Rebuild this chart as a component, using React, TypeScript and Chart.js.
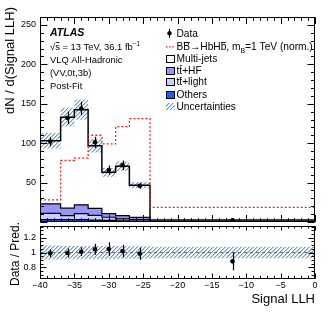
import React, { useEffect, useRef } from 'react';
import { Chart, registerables } from 'chart.js';
Chart.register(...registerables);

const FONT = "'Liberation Sans', Arial, Helvetica, sans-serif";

// ---- data ----
const binEdges = [-40, -37, -35, -33, -31, -29, -27, -24, 0];
const dataValues = [102, 132, 144, 101, 66, 72, 46, 2.2];
const dataErrors = [5.8, 8.1, 8.5, 7.1, 5.7, 6.0, 3.9, 0.3];
const multiJets = [80, 115.5, 120.7, 79.4, 52.5, 62.6, 40.9, 1.6];
const ttHF = [12, 9.5, 11.3, 8.8, 4.5, 4, 2.8, 0.4];
const ttLight = [8, 5, 7.5, 6, 4, 2.5, 2, 0.3];
const others = [3, 3, 3, 2.5, 2, 1.5, 1, 0.2];
const signalValues = [28, 78, 81, 110, 99, 121, 131, 18.5];
const relUnc = [0.095, 0.09, 0.09, 0.088, 0.088, 0.085, 0.085, 0.078];

const xMajorTicks = [-40, -35, -30, -25, -20, -15, -10, -5, 0];
const yMainTicks = [50, 100, 150, 200, 250];
const yRatioTicks = [0.8, 1, 1.2];

const X_MIN = -40, X_MAX = 0;
const Y_MAX = 260;
const R_MIN = 0.64, R_MAX = 1.36;

const COL_HF = 'rgb(150,150,250)';
const COL_LIGHT = 'rgb(204,204,255)';
const COL_OTHERS = 'rgb(20,100,240)';
const COL_SIGNAL = 'rgb(255,30,30)';

const yTitleMain = 'dN / d(Signal LLH)';
const yTitleRatio = 'Data / Pred.';
const xTitle = 'Signal LLH';

// ---- helpers ----
const centers = binEdges.slice(0, -1).map((e, i) => (e + binEdges[i + 1]) / 2);
function steps(vals: number[]) {
  return vals.flatMap((v, i) => [
    { x: binEdges[i], y: v },
    { x: binEdges[i + 1], y: v },
  ]);
}
function sumArrays(...arrs: number[][]) {
  return arrs[0].map((_, i) => arrs.reduce((s, a) => s + a[i], 0));
}
const stackOthers = others;
const stackLight = sumArrays(others, ttLight);
const stackHF = sumArrays(others, ttLight, ttHF);
const totalPred = sumArrays(others, ttLight, ttHF, multiJets);
const ratioValues = dataValues.map((d, i) => d / totalPred[i]);
const ratioErrors = dataErrors.map((e, i) => e / totalPred[i]);

function makeHatch() {
  const c = document.createElement('canvas');
  const n = 4;
  c.width = n; c.height = n;
  const g = c.getContext('2d')!;
  for (let i = 0; i < n; i++) {
    g.fillStyle = 'rgba(95,150,220,0.95)';
    g.fillRect(i, n - 1 - i, 1, 1);
    g.fillStyle = 'rgba(150,190,235,0.7)';
    g.fillRect((i + 1) % n, n - 1 - i, 1, 1);
  }
  return g.createPattern(c, 'repeat')!;
}

type Seg = { t: string; over?: boolean; sub?: boolean; sup?: boolean };
function drawRich(ctx: CanvasRenderingContext2D, x: number, y: number, segs: Seg[], size: number, style = '') {
  let cx = x;
  for (const s of segs) {
    const fs = s.sub || s.sup ? size * 0.68 : size;
    ctx.font = `${style}${fs}px ${FONT}`;
    const dy = s.sub ? size * 0.28 : s.sup ? -size * 0.42 : 0;
    ctx.fillText(s.t, cx, y + dy);
    const w = ctx.measureText(s.t).width;
    if (s.over) {
      const oy = Math.round(y - size * 0.8) + 0.5;
      ctx.beginPath(); ctx.lineWidth = 0.8;
      ctx.moveTo(cx + 0.5, oy); ctx.lineTo(cx + w - 0.3, oy); ctx.stroke();
    }
    cx += w;
  }
  return cx;
}

function range(a: number, b: number, step: number) {
  const out: number[] = [];
  for (let v = a; v <= b + 1e-9; v += step) out.push(Math.round(v * 1000) / 1000);
  return out;
}

function ticksPlugin(cfg: any) {
  return {
    id: 'frameTicks',
    afterDraw(chart: any) {
      const { ctx, chartArea: a, scales } = chart;
      const xs = scales.x, ys = scales.y;
      const L = Math.round(a.left) + 0.5, R = Math.round(a.right) - 0.5;
      const T = Math.round(a.top) + 0.5, B = Math.round(a.bottom) - 0.5;
      ctx.save();
      ctx.strokeStyle = '#000'; ctx.lineWidth = 1;
      ctx.beginPath();
      const xt = (vals: number[], len: number, lenTop: number) => {
        vals.forEach((v) => {
          if (v < X_MIN || v > X_MAX) return;
          const p = Math.round(xs.getPixelForValue(v)) + 0.5;
          ctx.moveTo(p, B); ctx.lineTo(p, B - len);
          ctx.moveTo(p, T); ctx.lineTo(p, T + lenTop);
        });
      };
      const yt = (vals: number[], len: number) => {
        vals.forEach((v) => {
          if (v < ys.min || v > ys.max) return;
          const p = Math.round(ys.getPixelForValue(v)) + 0.5;
          ctx.moveTo(L, p); ctx.lineTo(L + len, p);
          ctx.moveTo(R, p); ctx.lineTo(R - len, p);
        });
      };
      xt(cfg.xMajor, cfg.xMajLen, cfg.xMajLenTop);
      xt(cfg.xMinor, cfg.xMinLen, cfg.xMinLenTop);
      yt(cfg.yMajor, cfg.yMajLen);
      yt(cfg.yMinor, cfg.yMinLen);
      ctx.stroke();
      ctx.strokeRect(L, T, R - L, B - T);
      ctx.restore();
    },
  };
}

function errorBarPlugin(values: number[], errors: number[]) {
  return {
    id: 'errBars',
    afterDatasetsDraw(chart: any) {
      const { ctx, scales } = chart;
      ctx.save();
      ctx.strokeStyle = '#000'; ctx.lineWidth = 1.2;
      ctx.beginPath();
      centers.forEach((c, i) => {
        const px = Math.round(scales.x.getPixelForValue(c)) + 0.5;
        ctx.moveTo(px, scales.y.getPixelForValue(values[i] - errors[i]));
        ctx.lineTo(px, scales.y.getPixelForValue(values[i] + errors[i]));
      });
      ctx.stroke();
      ctx.restore();
    },
  };
}

const mainText = (hatch: CanvasPattern) => ({
  id: 'mainText',
  afterDraw(chart: any) {
    const ctx: CanvasRenderingContext2D = chart.ctx;
    ctx.save();
    ctx.fillStyle = '#000'; ctx.strokeStyle = '#000';
    ctx.textBaseline = 'alphabetic'; ctx.textAlign = 'left';
    // y title
    ctx.save();
    ctx.font = `13px ${FONT}`;
    ctx.translate(13.5, 7);
    ctx.rotate(-Math.PI / 2);
    ctx.textAlign = 'right';
    ctx.fillText(yTitleMain, 0, 0);
    ctx.restore();
    // annotations
    const ax = 50, aSize = 9.4;
    ctx.font = `italic bold 10.5px ${FONT}`;
    ctx.fillText('ATLAS', ax, 36);
    drawRich(ctx, ax, 49.5, [{ t: '\u221A' }, { t: 's', over: true }, { t: ' = 13 TeV, 36.1 fb' }, { t: '\u22121', sup: true }], aSize);
    ctx.font = `${aSize}px ${FONT}`;
    ctx.fillText('VLQ All-Hadronic', ax, 62.8);
    ctx.fillText('(VV,0t,3b)', ax, 76);
    ctx.fillText('Post-Fit', ax, 89.3);
    // legend
    const lx = 166, lw = 9, tx = 176.5, ls = 10.2;
    const rows = [33.3, 46.8, 58.8, 70, 81.5, 94, 106.5];
    const base = (y: number) => y + 3.6;
    // Data
    ctx.beginPath(); ctx.lineWidth = 1;
    ctx.moveTo(lx + 3.5, rows[0] - 4.5); ctx.lineTo(lx + 3.5, rows[0] + 4.5); ctx.stroke();
    ctx.beginPath(); ctx.arc(lx + 3.5, rows[0], 2.2, 0, Math.PI * 2); ctx.fill();
    drawRich(ctx, tx, base(rows[0]), [{ t: 'Data' }], ls);
    // Signal
    ctx.save();
    ctx.strokeStyle = COL_SIGNAL; ctx.lineWidth = 1.3; ctx.setLineDash([1.5, 1.5]);
    ctx.beginPath(); ctx.moveTo(lx, rows[1]); ctx.lineTo(lx + lw, rows[1]); ctx.stroke();
    ctx.restore();
    drawRich(ctx, tx, base(rows[1]), [
      { t: 'B' }, { t: 'B', over: true }, { t: '\u2192Hb' }, { t: 'H' }, { t: 'b', over: true },
      { t: ', m' }, { t: 'B', sub: true }, { t: '=1 TeV (norm.)' },
    ], ls);
    const box = (y: number, fill: any, border: boolean) => {
      ctx.fillStyle = fill;
      ctx.fillRect(lx, Math.round(y - 3.5), lw, 7);
      if (border) { ctx.lineWidth = 1; ctx.strokeStyle = '#000'; ctx.strokeRect(lx + 0.5, Math.round(y - 3.5) + 0.5, lw - 1, 7); }
      ctx.fillStyle = '#000';
    };
    box(rows[2], '#fff', true);
    drawRich(ctx, tx, base(rows[2]), [{ t: 'Multi-jets' }], ls);
    box(rows[3], COL_HF, true);
    drawRich(ctx, tx, base(rows[3]), [{ t: 't' }, { t: 't', over: true }, { t: '+HF' }], ls);
    box(rows[4], COL_LIGHT, true);
    drawRich(ctx, tx, base(rows[4]), [{ t: 't' }, { t: 't', over: true }, { t: '+light' }], ls);
    box(rows[5], COL_OTHERS, true);
    drawRich(ctx, tx, base(rows[5]), [{ t: 'Others' }], ls);
    box(rows[6], hatch, false);
    drawRich(ctx, tx, base(rows[6]), [{ t: 'Uncertainties' }], ls);
    ctx.restore();
  },
});

const ratioText = {
  id: 'ratioText',
  afterDraw(chart: any) {
    const ctx: CanvasRenderingContext2D = chart.ctx;
    ctx.save();
    ctx.fillStyle = '#000';
    ctx.font = `12px ${FONT}`;
    ctx.save();
    ctx.translate(18.5, 254 - 196);
    ctx.rotate(-Math.PI / 2);
    ctx.textAlign = 'center';
    ctx.fillText(yTitleRatio, 0, 0);
    ctx.restore();
    ctx.font = `13px ${FONT}`;
    ctx.textAlign = 'right';
    ctx.fillText(xTitle, 315, 302.5 - 196);
    ctx.restore();
  },
};

const fmt = (v: number) => (v < 0 ? '\u2212' + Math.abs(v) : String(v));
const noPad = (s: any) => { s.paddingTop = 0; s.paddingBottom = 0; s.paddingLeft = 0; s.paddingRight = 0; };

export default function App() {
  const mainRef = useRef<HTMLCanvasElement>(null);
  const ratioRef = useRef<HTMLCanvasElement>(null);

  useEffect(() => {
    const hatch = makeHatch();
    const line = (data: any, extra: any) => ({ data, pointRadius: 0, tension: 0, ...extra });
    const main = new Chart(mainRef.current!, {
      type: 'line',
      data: {
        datasets: [
          line(steps(stackOthers), { fill: 'origin', backgroundColor: COL_OTHERS, borderColor: '#000', borderWidth: 1.2, order: 10 }),
          line(steps(stackLight), { fill: '-1', backgroundColor: COL_LIGHT, borderColor: '#000', borderWidth: 1.2, order: 9 }),
          line(steps(stackHF), { fill: '-1', backgroundColor: COL_HF, borderColor: '#000', borderWidth: 1.2, order: 8 }),
          line(steps(totalPred), { fill: false, borderColor: '#000', borderWidth: 1.5, order: 7 }),
          line(steps(totalPred.map((v, i) => v * (1 - relUnc[i]))), { fill: false, borderWidth: 0, borderColor: 'rgba(0,0,0,0)', order: 5 }),
          line(steps(totalPred.map((v, i) => v * (1 + relUnc[i]))), { fill: '-1', backgroundColor: hatch, borderWidth: 0, borderColor: 'rgba(0,0,0,0)', order: 4 }),
          line(steps(signalValues), { fill: false, borderColor: COL_SIGNAL, borderWidth: 1.3, borderDash: [2, 2], order: 3 }),
          {
            data: centers.map((c, i) => ({ x: c, y: dataValues[i] })),
            showLine: false, pointRadius: 2.3, pointBorderWidth: 0,
            pointBackgroundColor: '#000', borderColor: '#000', backgroundColor: '#000', order: 0,
          },
        ] as any,
      },
      options: {
        responsive: false, animation: false, devicePixelRatio: 1, events: [],
        layout: { padding: { left: 0, top: 17, right: 17, bottom: 0 } },
        plugins: { legend: { display: false }, tooltip: { enabled: false }, filler: { drawTime: 'beforeDatasetsDraw' } as any },
        scales: {
          x: { type: 'linear', min: X_MIN, max: X_MAX, display: false },
          y: {
            type: 'linear', min: 0, max: Y_MAX, position: 'left',
            afterBuildTicks: (s: any) => { s.ticks = yMainTicks.map((value) => ({ value })); },
            afterFit: (s: any) => { s.width = 40; noPad(s); },
            grid: { display: false, drawTicks: false }, border: { display: false },
            ticks: { padding: 4, color: '#000', font: { family: FONT, size: 9 }, callback: (v: any) => fmt(Number(v)) },
          },
        },
      } as any,
      plugins: [
        errorBarPlugin(dataValues, dataErrors),
        ticksPlugin({
          xMajor: xMajorTicks, xMinor: range(X_MIN, X_MAX, 1), xMajLen: 6.5, xMinLen: 3.3, xMajLenTop: 6.5, xMinLenTop: 3.3,
          yMajor: range(0, Y_MAX, 50), yMinor: range(0, Y_MAX, 10), yMajLen: 7, yMinLen: 3.5,
        }),
        mainText(hatch),
      ],
    });

    const ratio = new Chart(ratioRef.current!, {
      type: 'line',
      data: {
        datasets: [
          line(steps(relUnc.map((u) => 1 - u)), { fill: false, borderWidth: 0, borderColor: 'rgba(0,0,0,0)', order: 5 }),
          line(steps(relUnc.map((u) => 1 + u)), { fill: '-1', backgroundColor: hatch, borderWidth: 0, borderColor: 'rgba(0,0,0,0)', order: 4 }),
          line([{ x: binEdges[0], y: 1 }, { x: binEdges[binEdges.length - 1], y: 1 }], { fill: false, borderColor: 'rgb(110,110,110)', borderWidth: 1, borderDash: [3, 3], order: 2 }),
          {
            data: centers.map((c, i) => ({ x: c, y: ratioValues[i] })),
            showLine: false, pointRadius: 2.3, pointBorderWidth: 0,
            pointBackgroundColor: '#000', borderColor: '#000', backgroundColor: '#000', order: 0,
          },
        ] as any,
      },
      options: {
        responsive: false, animation: false, devicePixelRatio: 1, events: [],
        layout: { padding: { left: 0, top: 30, right: 17, bottom: 0 } },
        plugins: { legend: { display: false }, tooltip: { enabled: false }, filler: { drawTime: 'beforeDatasetsDraw' } as any },
        scales: {
          x: {
            type: 'linear', min: X_MIN, max: X_MAX, position: 'bottom',
            afterBuildTicks: (s: any) => { s.ticks = xMajorTicks.map((value) => ({ value })); },
            afterFit: (s: any) => { s.height = 43; noPad(s); },
            grid: { display: false, drawTicks: false }, border: { display: false },
            ticks: { padding: 1, color: '#000', autoSkip: false, maxRotation: 0, font: { family: FONT, size: 9 }, callback: (v: any) => fmt(Number(v)) },
          },
          y: {
            type: 'linear', min: R_MIN, max: R_MAX, position: 'left',
            afterBuildTicks: (s: any) => { s.ticks = yRatioTicks.map((value) => ({ value })); },
            afterFit: (s: any) => { s.width = 40; noPad(s); },
            grid: { display: false, drawTicks: false }, border: { display: false },
            ticks: { padding: 4, color: '#000', font: { family: FONT, size: 9 }, callback: (v: any) => String(Number(v)) },
          },
        },
      } as any,
      plugins: [
        errorBarPlugin(ratioValues, ratioErrors),
        ticksPlugin({
          xMajor: xMajorTicks, xMinor: range(X_MIN, X_MAX, 1), xMajLen: 5, xMinLen: 2.7, xMajLenTop: 4, xMinLenTop: 2,
          yMajor: range(0.6, 1.4, 0.2), yMinor: range(0.6, 1.4, 0.05), yMajLen: 6, yMinLen: 3,
        }),
        ratioText,
      ],
    });

    return () => { main.destroy(); ratio.destroy(); };
  }, []);

  return (
    <div style={{ position: 'fixed', left: 0, top: 0, width: 332, height: 322, background: '#fff' }}>
      <canvas ref={mainRef} width={332} height={226} style={{ position: 'absolute', left: 0, top: 0, width: 332, height: 226 }} />
      <canvas ref={ratioRef} width={332} height={126} style={{ position: 'absolute', left: 0, top: 196, width: 332, height: 126 }} />
    </div>
  );
}
